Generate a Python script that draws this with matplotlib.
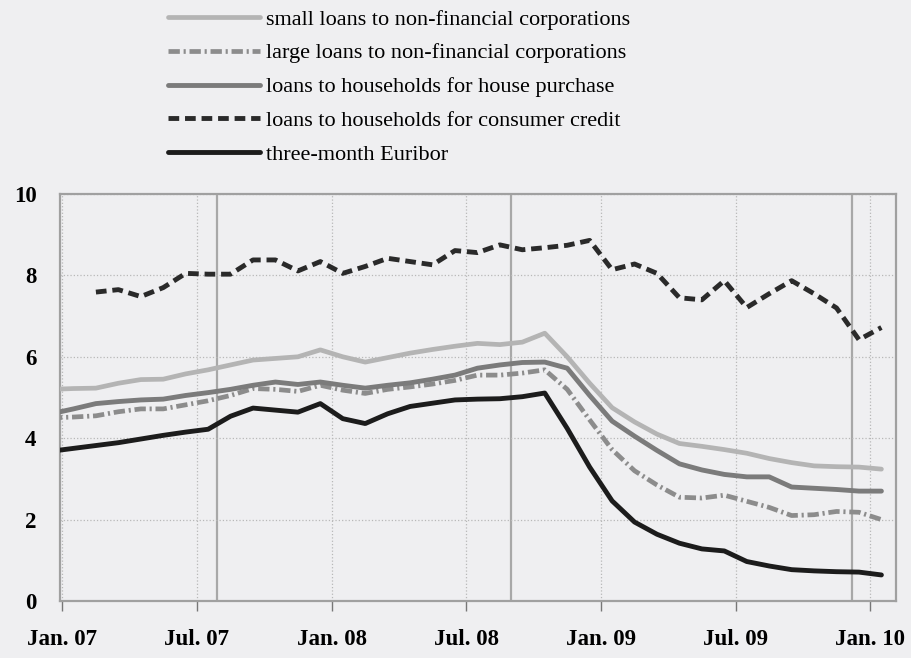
import numpy as np
import pandas as pd
import matplotlib
matplotlib.use('Agg')
import matplotlib.pyplot as plt

# monthly data, Dec 2006 - Jan 2010 (percentages per annum)
months = pd.period_range('2006-12', '2010-01', freq='M')

small_loans = [5.20, 5.22, 5.23, 5.35, 5.44, 5.45, 5.58, 5.68, 5.80, 5.92, 5.96, 6.00, 6.17,
               6.00, 5.87, 5.98, 6.09, 6.18, 6.26, 6.33, 6.30, 6.36, 6.58, 6.00, 5.35,
               4.75, 4.40, 4.10, 3.87, 3.80, 3.72, 3.63, 3.50, 3.40, 3.32, 3.30, 3.29, 3.24]

large_loans = [4.50, 4.52, 4.55, 4.65, 4.72, 4.72, 4.82, 4.92, 5.05, 5.22, 5.20, 5.15, 5.30,
               5.18, 5.10, 5.20, 5.26, 5.33, 5.42, 5.55, 5.55, 5.60, 5.68, 5.20, 4.45,
               3.72, 3.20, 2.85, 2.55, 2.53, 2.60, 2.45, 2.30, 2.10, 2.12, 2.20, 2.18, 2.00]

house_purchase = [4.60, 4.72, 4.85, 4.90, 4.94, 4.96, 5.05, 5.12, 5.20, 5.30, 5.38, 5.32, 5.38,
                  5.30, 5.23, 5.30, 5.36, 5.45, 5.55, 5.72, 5.80, 5.86, 5.87, 5.72, 5.05,
                  4.42, 4.05, 3.70, 3.37, 3.22, 3.11, 3.05, 3.05, 2.80, 2.77, 2.74, 2.70, 2.70]

# consumer credit starts in Feb 2007
consumer_credit = [np.nan, np.nan,
                   7.59, 7.65, 7.48, 7.70, 8.05, 8.03, 8.03, 8.38, 8.38, 8.11, 8.34,
                   8.05, 8.22, 8.42, 8.34, 8.26, 8.61, 8.56, 8.75, 8.63, 8.68, 8.74, 8.86,
                   8.14, 8.28, 8.05, 7.45, 7.40, 7.87, 7.21, 7.55, 7.87, 7.55, 7.20, 6.42, 6.72]

euribor = [3.68, 3.75, 3.82, 3.89, 3.98, 4.07, 4.15, 4.22, 4.54, 4.74, 4.69, 4.64, 4.85,
           4.48, 4.36, 4.60, 4.78, 4.86, 4.94, 4.96, 4.97, 5.02, 5.11, 4.24, 3.29,
           2.46, 1.94, 1.64, 1.42, 1.28, 1.23, 0.97, 0.86, 0.77, 0.74, 0.72, 0.71, 0.64]

tick_labels = ['Jan. 07', 'Jul. 07', 'Jan. 08', 'Jul. 08', 'Jan. 09', 'Jul. 09', 'Jan. 10']
# vertical marker lines (months since Jan 2007)
event_months = [6.9, 20.0, 35.2]

# x position: months since Jan 2007, plotted mid-month
x = np.array([(p.year - 2007) * 12 + p.month - 1 + 0.5 for p in months])

bg = '#efeff1'
plt.rcParams['font.family'] = ['Liberation Serif', 'DejaVu Serif']

fig = plt.figure(figsize=(9.12, 6.58), dpi=100, facecolor=bg)
ax = fig.add_axes([60 / 912, 1 - 601 / 658, (896 - 60) / 912, (601 - 194) / 658])
ax.set_facecolor(bg)

for m in event_months:
    ax.axvline(m, color='#a8a8a8', lw=1.6, zorder=1)

l1, = ax.plot(x, small_loans, color='#b4b4b4', lw=3.4, solid_capstyle='round', zorder=3)
l2, = ax.plot(x, large_loans, color='#8c8c8c', lw=3.4, ls=(0, (2.4, 0.8, 0.45, 0.8)), zorder=3)
l3, = ax.plot(x, house_purchase, color='#7b7b7b', lw=3.5, solid_capstyle='round', zorder=3)
l4, = ax.plot(x, consumer_credit, color='#2a2a2a', lw=3.5, ls=(0, (2.2, 1.2)), zorder=4)
l5, = ax.plot(x, euribor, color='#1c1c1c', lw=3.5, solid_capstyle='round', zorder=4)

ax.set_xlim(-0.1, 37.15)
ax.set_ylim(0, 10)
ax.set_xticks(np.arange(0, 37, 6))
ax.set_xticklabels(tick_labels, fontsize=16.5, fontweight='bold')
ax.set_yticks([0, 2, 4, 6, 8, 10])
ax.set_yticklabels(['0', '2', '4', '6', '8', '10'], fontsize=16.5, fontweight='bold')
ax.tick_params(axis='x', length=7, width=1, color='#777777', direction='out', pad=13)
ax.tick_params(axis='y', length=0, pad=17)
ax.grid(True, ls=':', color='#b8b8b8', lw=0.9)
for s in ax.spines.values():
    s.set_color('#a0a0a0')
    s.set_linewidth(1.6)

labels = ['small loans to non-financial corporations',
          'large loans to non-financial corporations',
          'loans to households for house purchase',
          'loans to households for consumer credit',
          'three-month Euribor']
fig.legend([l1, l2, l3, l4, l5], labels, loc='upper left',
           bbox_to_anchor=(168 / 912, 1 - 9 / 658), frameon=False,
           fontsize=16, handlelength=4.15, handletextpad=0.28, labelspacing=0.6,
           borderpad=0, borderaxespad=0)

fig.savefig('out.png', dpi=100, facecolor=bg)
